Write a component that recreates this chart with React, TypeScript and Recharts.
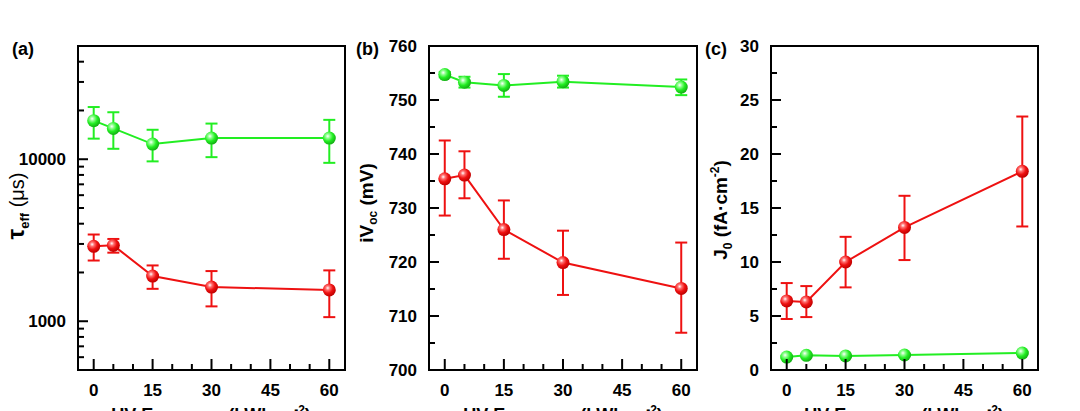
import React from "react";
import { LineChart, Line, XAxis, YAxis, ErrorBar, ReferenceArea } from "recharts";

const exposure = [0, 5, 15, 30, 60];
const xTicks = [0, 5, 10, 15, 20, 25, 30, 35, 40, 45, 50, 55, 60];
const xMajor = [0, 15, 30, 45, 60];

// (a) effective lifetime, log scale
const tauGreen = [17300, 15500, 12400, 13500, 13500];
const tauGreenHi = [21000, 19500, 15200, 16600, 17500];
const tauGreenLo = [13400, 11600, 9700, 10300, 9500];
const tauRed = [2900, 2940, 1900, 1625, 1560];
const tauRedHi = [3430, 3220, 2210, 2040, 2060];
const tauRedLo = [2370, 2650, 1585, 1235, 1060];
const tauTicks = [600, 700, 800, 900, 1000, 2000, 3000, 4000, 5000, 6000, 7000, 8000, 9000, 10000, 20000, 30000, 40000];
const tauMajor = [1000, 10000];

// (b) implied Voc
const ivocGreen = [754.7, 753.3, 752.7, 753.4, 752.4];
const ivocGreenHi = [755.2, 754.3, 754.8, 754.5, 753.8];
const ivocGreenLo = [754.2, 752.3, 750.6, 752.3, 750.9];
const ivocRed = [735.4, 736.1, 726.0, 719.9, 715.1];
const ivocRedHi = [742.5, 740.5, 731.4, 725.8, 723.6];
const ivocRedLo = [728.6, 731.8, 720.6, 713.9, 706.9];
const ivocTicks = [700, 705, 710, 715, 720, 725, 730, 735, 740, 745, 750, 755, 760];
const ivocMajor = [700, 710, 720, 730, 740, 750, 760];

// (c) J0
const j0Red = [6.4, 6.3, 10.0, 13.2, 18.4];
const j0RedHi = [8.05, 7.77, 12.33, 16.13, 23.47];
const j0RedLo = [4.72, 4.9, 7.65, 10.18, 13.29];
const j0Green = [1.2, 1.36, 1.3, 1.39, 1.57];
const j0GreenHi = [1.3, 1.46, 1.4, 1.49, 1.67];
const j0GreenLo = [1.1, 1.26, 1.2, 1.29, 1.47];
const j0Ticks = [0, 2.5, 5, 7.5, 10, 12.5, 15, 17.5, 20, 22.5, 25, 27.5, 30];
const j0Major = [0, 5, 10, 15, 20, 25, 30];

const RED = "#ee1111";
const GREEN = "#22ee22";
const font = { fontFamily: "'Liberation Sans', Arial, sans-serif", fontWeight: 700 };

function rows(g: number[], gHi: number[], gLo: number[], r: number[], rHi: number[], rLo: number[]) {
  return exposure.map((x, i) => ({
    x,
    g: g[i],
    gErr: [g[i] - gLo[i], gHi[i] - g[i]],
    r: r[i],
    rErr: [r[i] - rLo[i], rHi[i] - r[i]],
  }));
}

function XTick(props: any) {
  const { x, y, payload } = props;
  const major = xMajor.includes(payload.value);
  return (
    <g>
      <line x1={x} y1={y} x2={x} y2={y - (major ? 11 : 6)} stroke="#000" strokeWidth={2} />
      {major && (
        <text x={x} y={y + 26} textAnchor="middle" fontSize={17} fill="#000" style={font}>
          {payload.value}
        </text>
      )}
    </g>
  );
}

function makeYTick(majors: number[]) {
  return (props: any) => {
    const { x, y, payload } = props;
    const major = majors.includes(payload.value);
    return (
      <g>
        <line x1={x} y1={y} x2={x + (major ? 10 : 6)} y2={y} stroke="#000" strokeWidth={2} />
        {major && (
          <text x={x - 12} y={y + 6} textAnchor="end" fontSize={17} fill="#000" style={font}>
            {payload.value}
          </text>
        )}
      </g>
    );
  };
}

function makeDot(id: string) {
  return (props: any) => {
    const { cx, cy, index } = props;
    if (cx == null || cy == null) return <g key={index} />;
    return <circle key={index} cx={cx} cy={cy} r={6.5} fill={`url(#${id})`} />;
  };
}

function Grads({ p }: { p: string }) {
  return (
    <defs>
      <radialGradient id={`${p}red`} cx="38%" cy="35%" r="65%">
        <stop offset="0%" stopColor="#ffffff" />
        <stop offset="25%" stopColor="#ff7070" />
        <stop offset="60%" stopColor="#ee1111" />
        <stop offset="100%" stopColor="#c00000" />
      </radialGradient>
      <radialGradient id={`${p}green`} cx="38%" cy="35%" r="65%">
        <stop offset="0%" stopColor="#ffffff" />
        <stop offset="25%" stopColor="#90ff90" />
        <stop offset="60%" stopColor="#22ee22" />
        <stop offset="100%" stopColor="#14b014" />
      </radialGradient>
    </defs>
  );
}

type PanelProps = {
  id: string;
  left: number;
  margin: { top: number; right: number; bottom: number; left: number };
  yWidth: number;
  data: any[];
  yDomain: [number, number];
  yTicks: number[];
  yMajor: number[];
  log?: boolean;
};

function Panel({ id, left, margin, yWidth, data, yDomain, yTicks, yMajor, log }: PanelProps) {
  return (
    <div style={{ position: "absolute", left, top: 0 }}>
      <LineChart width={360} height={411} data={data} margin={margin}>
        <Grads p={id} />
        <XAxis
          dataKey="x"
          type="number"
          domain={[-4, 64]}
          ticks={xTicks}
          interval={0}
          allowDataOverflow
          axisLine={false}
          tickLine={false}
          tickSize={0}
          tickMargin={0}
          height={30}
          tick={<XTick />}
        />
        <YAxis
          type="number"
          scale={log ? "log" : "linear"}
          domain={yDomain}
          ticks={yTicks}
          interval={0}
          allowDataOverflow
          axisLine={false}
          tickLine={false}
          tickSize={0}
          tickMargin={0}
          width={yWidth}
          tick={makeYTick(yMajor)}
        />
        <ReferenceArea
          x1={-4}
          x2={64}
          y1={yDomain[0]}
          y2={yDomain[1]}
          fill="none"
          fillOpacity={0}
          stroke="#000"
          strokeWidth={2}
          ifOverflow="visible"
        />
        <Line dataKey="g" type="linear" stroke={GREEN} strokeWidth={2} dot={makeDot(`${id}green`)} isAnimationActive={false}>
          <ErrorBar dataKey="gErr" direction="y" width={6} stroke={GREEN} strokeWidth={2} />
        </Line>
        <Line dataKey="r" type="linear" stroke={RED} strokeWidth={2} dot={makeDot(`${id}red`)} isAnimationActive={false}>
          <ErrorBar dataKey="rErr" direction="y" width={6} stroke={RED} strokeWidth={2} />
        </Line>
      </LineChart>
    </div>
  );
}

const textBase: React.CSSProperties = { position: "absolute", whiteSpace: "nowrap", color: "#000", ...font };

function YTitle({ cx, cy, children }: { cx: number; cy: number; children: React.ReactNode }) {
  return (
    <div
      style={{
        ...textBase,
        left: cx,
        top: cy,
        fontSize: 19,
        lineHeight: "19px",
        transform: "translate(-50%, -50%) rotate(-90deg)",
      }}
    >
      {children}
    </div>
  );
}

function XTitle({ cx }: { cx: number }) {
  return (
    <div style={{ ...textBase, left: cx, top: 401, fontSize: 18, lineHeight: "18px", transform: "translateX(-50%)" }}>
      UV Exposure (kWh·m<sup style={{ fontSize: 12 }}>-2</sup>)
    </div>
  );
}

function Tag({ x, children }: { x: number; children: React.ReactNode }) {
  return <div style={{ ...textBase, left: x, top: 40, fontSize: 18, lineHeight: "18px" }}>{children}</div>;
}

export default function App() {
  const dataA = rows(tauGreen, tauGreenHi, tauGreenLo, tauRed, tauRedHi, tauRedLo);
  const dataB = rows(ivocGreen, ivocGreenHi, ivocGreenLo, ivocRed, ivocRedHi, ivocRedLo);
  const dataC = rows(j0Green, j0GreenHi, j0GreenLo, j0Red, j0RedHi, j0RedLo);
  return (
    <div style={{ position: "absolute", left: 0, top: 0, width: 1080, height: 411, background: "#fff", overflow: "hidden" }}>
      <Panel
        id="a"
        left={0}
        margin={{ top: 46, right: 15, bottom: 11, left: 18 }}
        yWidth={60}
        data={dataA}
        yDomain={[500, 50000]}
        yTicks={tauTicks}
        yMajor={tauMajor}
        log
      />
      <Panel
        id="b"
        left={360}
        margin={{ top: 46, right: 23, bottom: 11, left: 9 }}
        yWidth={60}
        data={dataB}
        yDomain={[700, 760]}
        yTicks={ivocTicks}
        yMajor={ivocMajor}
      />
      <Panel
        id="c"
        left={720}
        margin={{ top: 46, right: 42, bottom: 11, left: 11 }}
        yWidth={40}
        data={dataC}
        yDomain={[0, 30]}
        yTicks={j0Ticks}
        yMajor={j0Major}
      />
      <Tag x={12}>(a)</Tag>
      <Tag x={356}>(b)</Tag>
      <Tag x={705}>(c)</Tag>
      <YTitle cx={20} cy={206}>
        <span style={{ fontSize: 24 }}>τ</span>
        <sub style={{ fontSize: 13 }}>eff</sub>
        <span style={{ fontWeight: 400, fontSize: 20 }}> (μs)</span>
      </YTitle>
      <YTitle cx={370} cy={203}>
        iV<sub style={{ fontSize: 12 }}>oc</sub> (mV)
      </YTitle>
      <YTitle cx={722} cy={210}>
        J<sub style={{ fontSize: 12 }}>0</sub> (fA·cm<sup style={{ fontSize: 12 }}>-2</sup>)
      </YTitle>
      <XTitle cx={211} />
      <XTitle cx={563} />
      <XTitle cx={904} />
    </div>
  );
}
